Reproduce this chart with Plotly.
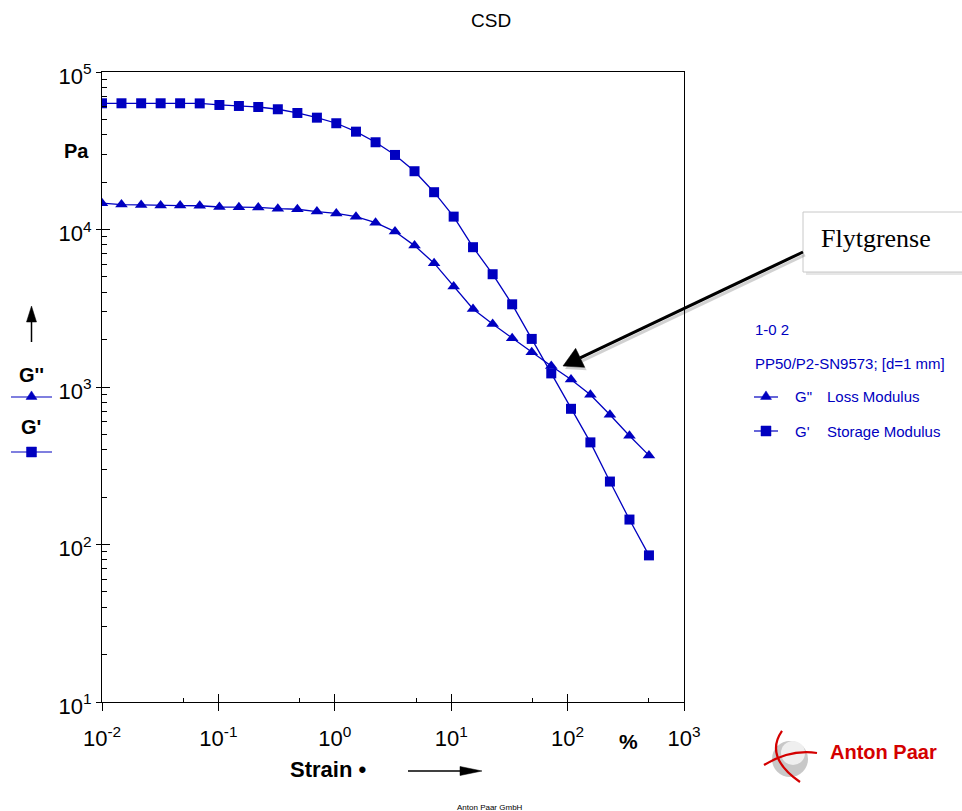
import math
import plotly.graph_objects as go

# ---------------- data ----------------
strain = [0.01, 0.0147, 0.0217, 0.0319, 0.0469, 0.0691, 0.102, 0.150, 0.220, 0.324,
          0.477, 0.702, 1.03, 1.52, 2.24, 3.29, 4.84, 7.13, 10.5, 15.4,
          22.7, 33.4, 49.2, 72.4, 107, 157, 231, 340, 500]
g_storage = [63300, 63300, 63300, 63300, 63300, 63200, 61750, 60860, 59970, 58000,
             54940, 51290, 47270, 41800, 35800, 29740, 23440, 17250, 12070, 7720,
             5200, 3350, 2020, 1220, 727, 445, 251, 144, 85.3]
g_loss = [14690, 14400, 14330, 14200, 14190, 14150, 13900, 13850, 13800, 13550,
          13450, 13000, 12650, 12070, 11040, 9700, 7900, 6110, 4340, 3130,
          2510, 2040, 1660, 1360, 1116, 893, 666, 490, 368]

x_tickvals = [0.01, 0.1, 1, 10, 100, 1000]
x_ticktext = ["10<sup>-2</sup>", "10<sup>-1</sup>", "10<sup>0</sup>",
              "10<sup>1</sup>", "10<sup>2</sup>", "10<sup>3</sup>"]
x_minorvals = [0.05, 0.5, 5, 50, 500]
y_tickvals = [10, 100, 1000, 10000, 100000]
y_ticktext = ["10<sup>1</sup>", "10<sup>2</sup>", "10<sup>3</sup>",
              "10<sup>4</sup>", "10<sup>5</sup>"]
y_minorvals = [m * 10 ** e for e in range(1, 5) for m in range(2, 10)]

title_text = "CSD"
loss_name = "Loss Modulus"
storage_name = "Storage Modulus"

BLUE = "#0000C0"
FONT = "Arial, Liberation Sans, sans-serif"

# ---------------- layout geometry ----------------
W, H = 962, 811
L, R, T, B = 102, 684, 72, 702


def px(x):
    return (x - L) / (R - L)


def py(y):
    return (B - y) / (B - T)


fig = go.Figure()
fig.add_trace(go.Scatter(x=strain, y=g_storage, mode="lines+markers",
                         line=dict(color=BLUE, width=1.3),
                         marker=dict(symbol="square", size=10, color=BLUE),
                         name="G'", hoverinfo="x+y"))
fig.add_trace(go.Scatter(x=strain, y=g_loss, mode="lines+markers",
                         line=dict(color=BLUE, width=1.3),
                         marker=dict(symbol="triangle-up", size=11, color=BLUE),
                         name='G"', hoverinfo="x+y"))
# invisible trace that carries the overlay axes (for ticks crossing the axis line)
fig.add_trace(go.Scatter(x=strain[:1], y=g_storage[:1], xaxis="x2", yaxis="y2",
                         mode="markers", marker=dict(opacity=0), hoverinfo="skip",
                         showlegend=False))

axis_common = dict(showgrid=False, zeroline=False, tickcolor="black", tickwidth=1)

fig.update_layout(
    width=W, height=H,
    margin=dict(l=L, r=W - R, t=T, b=H - B, pad=0),
    paper_bgcolor="white", plot_bgcolor="white",
    showlegend=False,
    font=dict(family=FONT, color="black"),
    xaxis=dict(type="log", range=[-2, 3], showline=True, linecolor="black",
               linewidth=1, mirror=True, ticks="outside", ticklen=8,
               tickvals=x_tickvals, ticktext=x_ticktext, ticklabelstandoff=9,
               tickfont=dict(size=22, family=FONT, color="black"),
               minor=dict(tickvals=x_minorvals, ticks="inside", ticklen=4,
                          tickcolor="black"),
               **axis_common),
    yaxis=dict(type="log", range=[1, 5], showline=True, linecolor="black",
               linewidth=1, mirror=True, ticks="outside", ticklen=5,
               tickvals=y_tickvals, ticktext=y_ticktext, ticklabelshift=4,
               tickfont=dict(size=22, family=FONT, color="black"),
               minor=dict(tickvals=y_minorvals, ticks="inside", ticklen=5,
                          tickcolor="black"),
               **axis_common),
    xaxis2=dict(type="log", range=[-2, 3], overlaying="x", anchor="y", side="bottom",
                ticks="inside", ticklen=8, tickvals=x_tickvals, showticklabels=False,
                showline=False, **axis_common),
    yaxis2=dict(type="log", range=[1, 5], overlaying="y", anchor="x", side="left",
                ticks="inside", ticklen=8, tickvals=y_tickvals, showticklabels=False,
                showline=False, **axis_common),
)

ann = []


def text(x, y, s, size, bold=False, color="black", anchor="center", family=FONT):
    ann.append(dict(x=px(x), y=py(y), xref="paper", yref="paper", text=s,
                    showarrow=False, xanchor=anchor, yanchor="middle",
                    font=dict(size=size, color=color, family=family,
                              weight="bold" if bold else "normal")))


text(491, 20, title_text, 19)
text(76, 151, "Pa", 20, bold=True)
text(31, 375, "G''", 20, bold=True)
text(31, 427, "G'", 20, bold=True)
text(328, 769, "Strain •", 22, bold=True)
text(628, 741, "%", 21, bold=True)
text(490, 807, "Anton Paar GmbH", 8)
text(884, 752, "Anton Paar", 20, bold=True, color="#D40000")
text(876, 239, "Flytgrense", 26, family="Liberation Serif, Times New Roman, serif")

# right hand legend
text(753, 329, "1-0 2", 15, color=BLUE, anchor="left")
text(753, 363, "PP50/P2-SN9573; [d=1 mm]", 15, color=BLUE, anchor="left")
text(793, 397, 'G"', 15, color=BLUE, anchor="left")
text(825, 397, loss_name, 15, color=BLUE, anchor="left")
text(793, 431, "G'", 15, color=BLUE, anchor="left")
text(825, 431, storage_name, 15, color=BLUE, anchor="left")

fig.update_layout(annotations=ann)

shapes = []


def line(x0, y0, x1, y1, color, width):
    shapes.append(dict(type="line", xref="paper", yref="paper",
                       x0=px(x0), y0=py(y0), x1=px(x1), y1=py(y1),
                       line=dict(color=color, width=width), layer="above"))


def poly(pts, color, line_color=None):
    path = "M " + " L ".join(f"{px(a):.5f},{py(b):.5f}" for a, b in pts) + " Z"
    shapes.append(dict(type="path", xref="paper", yref="paper", path=path,
                       fillcolor=color, line=dict(color=line_color or color, width=0.5),
                       layer="above"))


def tri(cx, cy, w, h, color):
    poly([(cx, cy - h * 0.6), (cx - w / 2, cy + h * 0.4), (cx + w / 2, cy + h * 0.4)], color)


def sq(cx, cy, s, color):
    poly([(cx - s / 2, cy - s / 2), (cx + s / 2, cy - s / 2),
          (cx + s / 2, cy + s / 2), (cx - s / 2, cy + s / 2)], color)


# left legend samples
line(11, 397, 52, 397, BLUE, 1.2)
tri(31.5, 396, 11, 8.5, BLUE)
line(11, 452, 52, 452, BLUE, 1.2)
sq(31.5, 452, 10, BLUE)
# up arrow
line(31.5, 342, 31.5, 318, "black", 1.5)
poly([(31.5, 306), (26.5, 322), (36.5, 322)], "black")
# right arrow under Strain
line(408, 771, 462, 771, "black", 1.5)
poly([(482, 771), (460, 766.5), (460, 775.5)], "black")

# right legend samples
line(754, 397, 778, 397, BLUE, 1.2)
tri(766, 396, 11, 8.5, BLUE)
line(754, 431, 778, 431, BLUE, 1.2)
sq(766, 431, 10, BLUE)

# Flytgrense box
shapes.append(dict(type="rect", xref="paper", yref="paper",
                   x0=px(806), x1=px(970), y0=py(215), y1=py(275),
                   fillcolor="#e6e6e6", line=dict(width=0), layer="above"))
shapes.append(dict(type="rect", xref="paper", yref="paper",
                   x0=px(803), x1=px(966), y0=py(212), y1=py(272),
                   fillcolor="white", line=dict(color="#c8c8c8", width=1), layer="above"))

# arrow to the crossover
tip = (563, 366)
tail = (803, 252)
dx, dy = tail[0] - tip[0], tail[1] - tip[1]
ln = math.hypot(dx, dy)
ux, uy = dx / ln, dy / ln
nx, ny = -uy, ux
hl, hw = 19, 10.5
bx, by = tip[0] + hl * ux, tip[1] + hl * uy
line(tail[0] + 2, tail[1] + 3, bx + 2, by + 3, "rgba(0,0,0,0.18)", 3)
poly([(tip[0] + 2, tip[1] + 3), (bx + hw * nx + 2, by + hw * ny + 3),
      (bx - hw * nx + 2, by - hw * ny + 3)], "rgba(0,0,0,0.18)", "rgba(0,0,0,0)")
line(tail[0], tail[1], bx, by, "black", 3)
poly([tip, (bx + hw * nx, by + hw * ny), (bx - hw * nx, by - hw * ny)], "black")

# Anton Paar logo mark
shapes.append(dict(type="circle", xref="paper", yref="paper",
                   x0=px(772), x1=px(808), y0=py(741), y1=py(777),
                   fillcolor="#c8c8c8", line=dict(width=0), layer="above"))
shapes.append(dict(type="circle", xref="paper", yref="paper",
                   x0=px(781), x1=px(805), y0=py(741), y1=py(765),
                   fillcolor="#efefef", line=dict(width=0), layer="above"))


def curve(p0, c, p1, color, width):
    path = (f"M {px(p0[0]):.5f},{py(p0[1]):.5f} Q {px(c[0]):.5f},{py(c[1]):.5f} "
            f"{px(p1[0]):.5f},{py(p1[1]):.5f}")
    shapes.append(dict(type="path", xref="paper", yref="paper", path=path,
                       line=dict(color=color, width=width), layer="above"))


curve((782, 731), (764, 757), (800, 782), "#D40000", 2.2)
curve((764, 765), (790, 749), (817, 753), "#D40000", 2.2)

fig.update_layout(shapes=shapes)

fig.write_html("out.html")
